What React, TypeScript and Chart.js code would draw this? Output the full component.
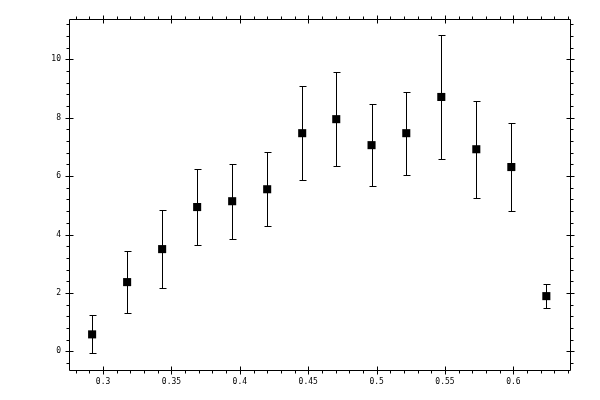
import { Chart, registerables, type Plugin } from 'chart.js';
import { useEffect, useRef } from 'react';

Chart.register(...registerables);

// points
const xValues = [0.292, 0.3176, 0.3432, 0.3688, 0.3944, 0.42, 0.4456, 0.4705, 0.4963, 0.5217, 0.5473, 0.5729, 0.5985, 0.6241];
const yValues = [0.58, 2.37, 3.5, 4.94, 5.14, 5.55, 7.47, 7.95, 7.06, 7.47, 8.71, 6.92, 6.31, 1.89];
const yErrors = [0.65, 1.05, 1.33, 1.3, 1.28, 1.27, 1.6, 1.62, 1.4, 1.42, 2.13, 1.66, 1.5, 0.42];

// axes
const xTicks = [0.3, 0.35, 0.4, 0.45, 0.5, 0.55, 0.6];
const xTickLabels = ['0.3', '0.35', '0.4', '0.45', '0.5', '0.55', '0.6'];
const yTicks = [0, 2, 4, 6, 8, 10];
const yTickLabels = ['0', '2', '4', '6', '8', '10'];
const xRange = [0.2751, 0.6414];
const yRange = [-0.64, 11.38];
const xMinorStep = 0.01;
const yMinorStep = 0.4;

const px = (v: number) => Math.round(v) + 0.5;

const errorBars: Plugin<'scatter'> = {
  id: 'errorBars',
  beforeDatasetsDraw(chart) {
    const { ctx } = chart;
    const xs = chart.scales.x;
    const ys = chart.scales.y;
    ctx.save();
    ctx.strokeStyle = '#000';
    ctx.lineWidth = 1;
    xValues.forEach((xv, i) => {
      const x = px(xs.getPixelForValue(xv));
      const top = px(ys.getPixelForValue(yValues[i] + yErrors[i]));
      const bottom = px(ys.getPixelForValue(yValues[i] - yErrors[i]));
      ctx.beginPath();
      ctx.moveTo(x, top);
      ctx.lineTo(x, bottom);
      ctx.moveTo(x - 3, top);
      ctx.lineTo(x + 4, top);
      ctx.moveTo(x - 3, bottom);
      ctx.lineTo(x + 4, bottom);
      ctx.stroke();
    });
    ctx.restore();
  },
};

const frame: Plugin<'scatter'> = {
  id: 'frame',
  afterDraw(chart) {
    const { ctx, chartArea: a } = chart;
    const xs = chart.scales.x;
    const ys = chart.scales.y;
    const L = px(a.left);
    const R = px(a.right);
    const T = px(a.top);
    const B = px(a.bottom);
    ctx.save();
    ctx.strokeStyle = '#000';
    ctx.lineWidth = 1;
    ctx.beginPath();
    ctx.rect(L, T, R - L, B - T);

    // minor ticks, outward
    const x0 = Math.ceil(xRange[0] / xMinorStep - 1e-6);
    for (let k = x0; k * xMinorStep <= xRange[1] + 1e-9; k++) {
      const x = px(xs.getPixelForValue(k * xMinorStep));
      ctx.moveTo(x, B);
      ctx.lineTo(x, B + 3);
      ctx.moveTo(x, T);
      ctx.lineTo(x, T - 3);
    }
    const y0 = Math.ceil(yRange[0] / yMinorStep - 1e-6);
    for (let k = y0; k * yMinorStep <= yRange[1] + 1e-9; k++) {
      const y = px(ys.getPixelForValue(k * yMinorStep));
      ctx.moveTo(L, y);
      ctx.lineTo(L - 3, y);
      ctx.moveTo(R, y);
      ctx.lineTo(R + 3, y);
    }

    // major ticks, both sides of the axis
    xTicks.forEach((v) => {
      const x = px(xs.getPixelForValue(v));
      ctx.moveTo(x, B - 4);
      ctx.lineTo(x, B + 4);
      ctx.moveTo(x, T - 4);
      ctx.lineTo(x, T + 4);
    });
    yTicks.forEach((v) => {
      const y = px(ys.getPixelForValue(v));
      ctx.moveTo(L - 4, y);
      ctx.lineTo(L + 4, y);
      ctx.moveTo(R - 4, y);
      ctx.lineTo(R + 4, y);
    });
    ctx.stroke();

    ctx.fillStyle = '#000';
    ctx.font = '8px "DejaVu Sans Mono"';
    ctx.textAlign = 'center';
    ctx.textBaseline = 'top';
    xTicks.forEach((v, i) => {
      ctx.fillText(xTickLabels[i], xs.getPixelForValue(v), a.bottom + 8);
    });
    ctx.textAlign = 'right';
    ctx.textBaseline = 'middle';
    yTicks.forEach((v, i) => {
      ctx.fillText(yTickLabels[i], a.left - 8, ys.getPixelForValue(v));
    });
    ctx.restore();
  },
};

export default function App() {
  const canvasRef = useRef<HTMLCanvasElement>(null);
  const chartRef = useRef<Chart<'scatter'> | null>(null);

  useEffect(() => {
    if (!canvasRef.current) return;
    const context = canvasRef.current.getContext('2d');
    if (!context) return;

    chartRef.current = new Chart(context, {
      type: 'scatter',
      data: {
        datasets: [
          {
            data: xValues.map((x, i) => ({ x, y: yValues[i] })),
            pointStyle: 'rect',
            pointRadius: 5.7,
            pointHoverRadius: 5.7,
            backgroundColor: '#000',
            borderColor: '#000',
            borderWidth: 0,
          },
        ],
      },
      options: {
        animation: false,
        responsive: true,
        maintainAspectRatio: false,
        layout: { padding: { left: 69, top: 19, right: 30, bottom: 30 } },
        plugins: { legend: { display: false }, tooltip: { enabled: false } },
        scales: {
          x: { type: 'linear', display: false, min: xRange[0], max: xRange[1] },
          y: { type: 'linear', display: false, min: yRange[0], max: yRange[1] },
        },
      },
      plugins: [errorBars, frame],
    });

    return () => {
      chartRef.current?.destroy();
    };
  }, []);

  return (
    <div style={{ position: 'absolute', left: 0, top: 0, width: 600, height: 400, background: '#fff' }}>
      <canvas ref={canvasRef} />
    </div>
  );
}
